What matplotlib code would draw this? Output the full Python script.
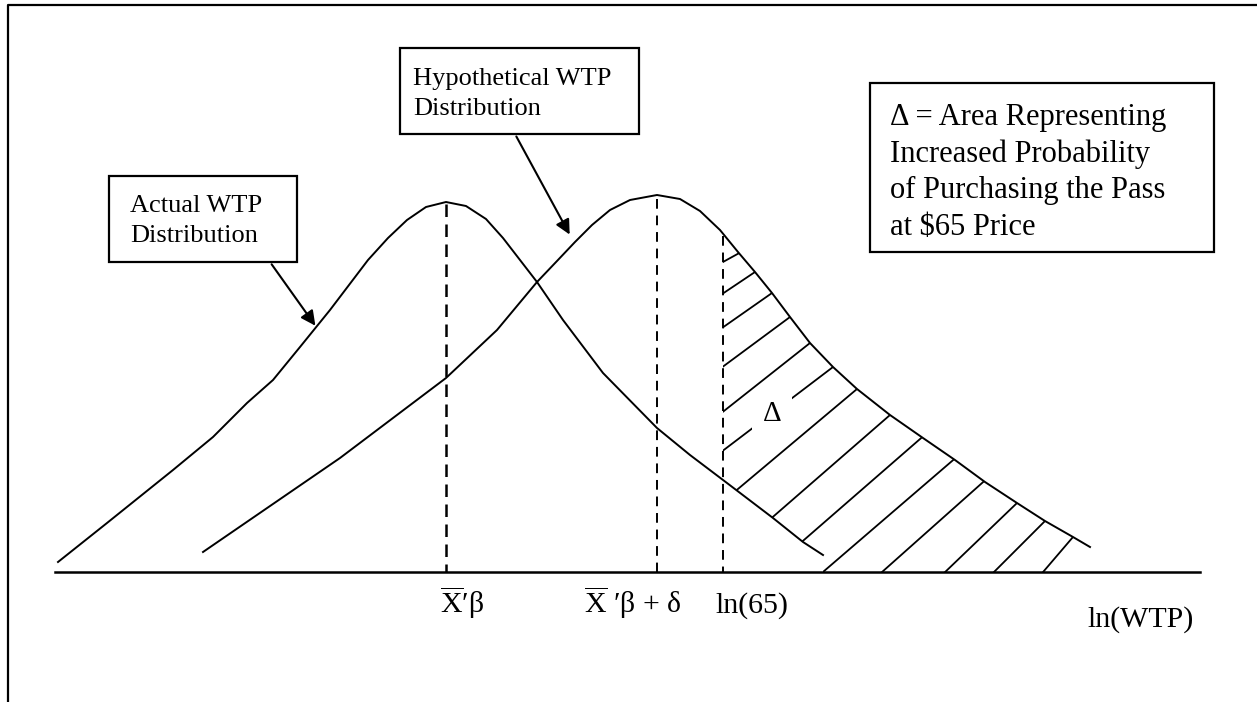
import numpy as np
import matplotlib
matplotlib.use("Agg")
from matplotlib import pyplot as plt
from matplotlib.patches import Polygon

# diagram is laid out in pixel units (x right, y down)
actual_x = [58, 107, 173, 213, 247, 273, 300, 330, 368, 388, 407, 426, 446, 466, 486,
            503, 520, 537, 563, 603, 657, 690, 727, 773, 803, 823]
actual_y = [562, 523, 470, 437, 403, 380, 347, 310, 260, 238, 220, 207, 202, 206, 219,
            238, 260, 282, 320, 373, 428, 455, 483, 518, 542, 555]

hyp_x = [203, 340, 446, 497, 537, 557, 575, 592, 610, 630, 657, 680, 700, 720, 738,
         755, 772, 790, 810, 833, 857, 890, 923, 955, 985, 1017, 1045, 1073, 1090]
hyp_y = [552, 458, 378, 330, 282, 261, 242, 225, 210, 200, 195, 199, 211, 230, 252,
         272, 293, 317, 343, 367, 389, 415, 438, 460, 482, 503, 521, 537, 547]

axis_y = 572
axis_x = [55, 1200]
mean_actual = 446
mean_hyp = 657
ln65 = 723

# hatch lines: x where each meets the upper curve, and slope
hatch_top_x = [739, 755, 772, 790, 810, 833, 857, 890, 922, 954, 984, 1017, 1045, 1073]
hatch_slope = [0.55, 0.67, 0.70, 0.74, 0.79, 0.76, 0.84, 0.87, 0.87, 0.86, 0.89, 0.96, 1.0, 1.17]

tick_labels = [r"$\overline{\mathrm{X}}$′β", r"$\overline{\mathrm{X}}$ ′β + δ", "ln(65)"]
tick_x = [462, 633, 752]

actual_lines = ["Actual WTP", "Distribution"]
hyp_lines = ["Hypothetical WTP", "Distribution"]
delta_lines = ["\u0394 = Area Representing", "Increased Probability",
               "of Purchasing the Pass", "at $65 Price"]

plt.rcParams['font.family'] = ['Liberation Serif', 'DejaVu Serif']
plt.rcParams['mathtext.fontset'] = 'custom'
plt.rcParams['mathtext.rm'] = 'Liberation Serif'
plt.rcParams['mathtext.it'] = 'Liberation Serif:italic'

fig = plt.figure(figsize=(12.57, 7.02), dpi=100)
ax = fig.add_axes([0, 0, 1, 1])
ax.set_xlim(0, 1257)
ax.set_ylim(702, 0)
ax.axis('off')

# frame
ax.plot([8, 8, 1257], [702, 5, 5], color='black', lw=1.6, solid_capstyle='butt')

# axis
ax.plot(axis_x, [axis_y, axis_y], color='black', lw=1.8)

# curves
ax.plot(actual_x, actual_y, color='black', lw=1.4, solid_joinstyle='round')
ax.plot(hyp_x, hyp_y, color='black', lw=1.4, solid_joinstyle='round')

# dashed verticals
hx = np.array(hyp_x)
hy = np.array(hyp_y)
ax.plot([mean_actual, mean_actual], [min(actual_y) + 2, axis_y], color='black',
        lw=1.8, dashes=(5, 3))
ax.plot([mean_hyp, mean_hyp], [min(hyp_y) + 4, axis_y], color='black',
        lw=1.4, dashes=(5, 3.5))
top65 = np.interp(ln65, hx, hy)
ax.plot([ln65, ln65], [top65 + 2, axis_y], color='black', lw=1.4, dashes=(5, 3.5))

# hatched region between ln65 and the hypothetical curve
ax_arr = np.array(actual_x)
ay_arr = np.array(actual_y)
upper = [(x, y) for x, y in zip(hyp_x, hyp_y) if x > ln65]
lower = [(x, y) for x, y in zip(actual_x, actual_y) if x > ln65]
poly = [(ln65, top65)] + upper + [(hyp_x[-1], axis_y)] + \
       [(actual_x[-1], axis_y)] + lower[::-1] + \
       [(ln65, np.interp(ln65, ax_arr, ay_arr))]
clip = Polygon(poly, closed=True, facecolor='none', edgecolor='none')
ax.add_patch(clip)
for tx, s in zip(hatch_top_x, hatch_slope):
    ty = np.interp(tx, hx, hy)
    line, = ax.plot([tx + 6, tx - 400], [ty - 6 * s, ty + 400 * s], color='black', lw=1.3)
    line.set_clip_path(clip)

ax.text(772, 414, "\u0394", fontsize=21, ha='center', va='center',
        bbox=dict(boxstyle='square,pad=0.35', fc='white', ec='none'))

# tick labels
for lx, lab in zip(tick_x, tick_labels):
    ax.text(lx, 613, lab, fontsize=21.5, ha='center', va='baseline')
ax.text(1141, 627, "ln(WTP)", fontsize=21.5, ha='center', va='baseline')

# text boxes
box_kw = dict(fc='white', ec='black', lw=1.6)
ax.add_patch(plt.Rectangle((109, 176), 188, 86, **box_kw))
for i, s in enumerate(actual_lines):
    ax.text(130, 212 + 30 * i, s, fontsize=19, ha='left', va='baseline')

ax.add_patch(plt.Rectangle((400, 48), 239, 86, **box_kw))
for i, s in enumerate(hyp_lines):
    ax.text(413, 85 + 30 * i, s, fontsize=19, ha='left', va='baseline')

ax.add_patch(plt.Rectangle((870, 83), 344, 169, **box_kw))
for i, s in enumerate(delta_lines):
    ax.text(890, 125 + 36.7 * i, s, fontsize=22, ha='left', va='baseline')

# arrows
arr = dict(arrowstyle='-|>', color='black', lw=1.5, mutation_scale=22)
ax.annotate("", xy=(317, 328), xytext=(270, 262), arrowprops=arr)
ax.annotate("", xy=(571, 237), xytext=(515, 134), arrowprops=arr)

fig.savefig("out.png", dpi=100)
